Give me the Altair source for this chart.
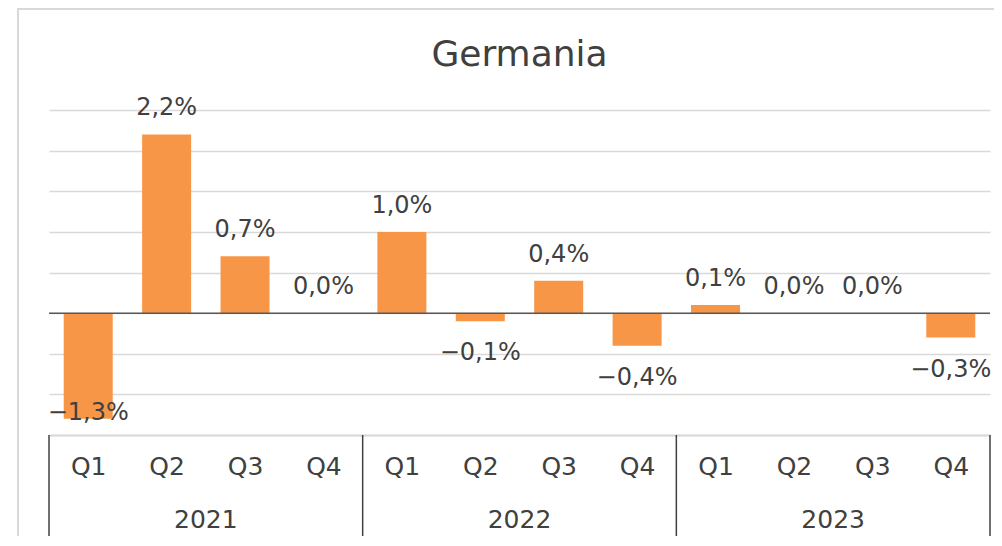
import altair as alt
import pandas as pd

title_text = "Germania"
years = ["2021", "2022", "2023"]
quarters = ["Q1", "Q2", "Q3", "Q4"]
values = [-1.3, 2.2, 0.7, 0.0, 1.0, -0.1, 0.4, -0.4, 0.1, 0.0, 0.0, -0.3]


def fmt(v):
    return f"{v:.1f}%".replace(".", ",").replace("-", "\u2212")


df = pd.DataFrame({
    "idx": list(range(len(values))),
    "year": [y for y in years for _ in quarters],
    "quarter": [q for _ in years for q in quarters],
    "value": values,
    "label": [fmt(v) for v in values],
})
year_df = pd.DataFrame({"year": years, "mid": [1.5 + 4 * i for i in range(len(years))]})
sep_df = pd.DataFrame({"pos": [-0.5 + 4 * i for i in range(len(years) + 1)]})

FONT = "DejaVu Sans"
TXT = "#404040"
ORANGE = "#F79646"
GRID = "#D9D9D9"

xscale = alt.Scale(domain=[-0.5, 11.5], nice=False, zero=False)
yscale = alt.Scale(domain=[-1.5, 2.5], nice=False, zero=False)

q_expr = "[" + ",".join(f"'{q}'" for q in quarters) + "][datum.value % 4]"

base = alt.Chart(df)

bars = base.transform_calculate(
    x0="datum.idx - 0.3125", x1="datum.idx + 0.3125"
).mark_bar(color=ORANGE).encode(
    x=alt.X("x0:Q", scale=xscale,
            axis=alt.Axis(values=list(range(12)), labelExpr=q_expr, title=None,
                          grid=False, ticks=False, domain=True, domainColor=GRID,
                          domainWidth=2, labelFont=FONT, labelFontSize=25,
                          labelColor=TXT, labelPadding=19, labelFlush=False,
                          labelOverlap=False)),
    x2="x1:Q",
    y=alt.Y("value:Q", scale=yscale,
            axis=alt.Axis(values=[-1.5, -1, -0.5, 0, 0.5, 1, 1.5, 2, 2.5],
                          labels=False, ticks=False, domain=False, title=None,
                          grid=True, gridColor=GRID, gridWidth=1.5)),
    y2=alt.datum(0),
)

zero = alt.Chart(pd.DataFrame({"z": [0]})).mark_rule(color="#595959", strokeWidth=1.5).encode(
    y=alt.Y("z:Q", scale=yscale)
)

pos_labels = base.transform_filter("datum.value >= 0").mark_text(
    font=FONT, fontSize=24, color=TXT, baseline="middle", dy=-26
).encode(
    x=alt.X("idx:Q", scale=xscale), y=alt.Y("value:Q", scale=yscale), text="label:N"
)

neg_labels = base.transform_filter("datum.value < 0").transform_calculate(
    ly="max(datum.value, -0.84)"
).mark_text(
    font=FONT, fontSize=24, color=TXT, baseline="middle", dy=32
).encode(
    x=alt.X("idx:Q", scale=xscale), y=alt.Y("ly:Q", scale=yscale), text="label:N"
)

seps = alt.Chart(sep_df).mark_rule(color=TXT, strokeWidth=1.5).encode(
    x=alt.X("pos:Q", scale=xscale), y=alt.value(325), y2=alt.value(430)
)

year_labels = alt.Chart(year_df).mark_text(
    font=FONT, fontSize=25, color=TXT, baseline="middle"
).encode(
    x=alt.X("mid:Q", scale=xscale), y=alt.value(410), text="year:N"
)

title = alt.Chart(pd.DataFrame({"t": [title_text]})).mark_text(
    font=FONT, fontSize=36, color=TXT, baseline="middle", align="center"
).encode(x=alt.value(470.5), y=alt.value(-55), text="t:N")

border = alt.Chart(pd.DataFrame({"b": [0]})).mark_rule(color=GRID, strokeWidth=2)
border_left = border.encode(x=alt.value(-31), y=alt.value(-101), y2=alt.value(430))
border_top = border.encode(x=alt.value(-32), x2=alt.value(945), y=alt.value(-101))

chart = alt.layer(
    bars, zero, pos_labels, neg_labels, seps, year_labels, title, border_left, border_top
).properties(
    width=941,
    height=325,
    autosize=alt.AutoSizeParams(type="none"),
    padding={"left": 41, "top": 102, "right": 4, "bottom": 101},
    background="white",
).configure_view(stroke=None)

chart.save("out.html", embed_options={"renderer": "svg", "actions": False})
